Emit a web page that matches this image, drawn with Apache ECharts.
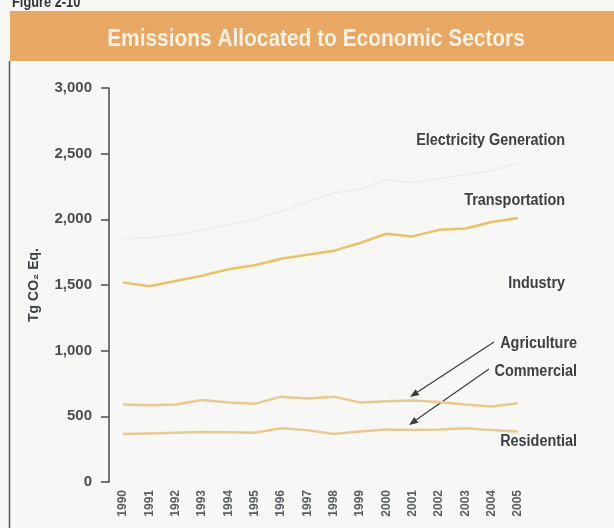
<!DOCTYPE html>
<html>
<head>
    <meta charset="utf-8">
    <title>Emissions Allocated to Economic Sectors</title>
    <script src="https://cdn.jsdelivr.net/npm/echarts@6/dist/echarts.min.js"></script>
    <style>
        html, body { margin: 0; padding: 0; background: #f7f7f5; }
        #main { width: 614px; height: 528px; }
    </style>
</head>
<body>
<div id="main"></div>
<script type="text/javascript">
    // 年份 (x 轴)
    var years = ['1990','1991','1992','1993','1994','1995','1996','1997',
                 '1998','1999','2000','2001','2002','2003','2004','2005'];
    // y 轴刻度
    var yTicks = [0, 500, 1000, 1500, 2000, 2500, 3000];

    // 各部门排放 (Tg CO2 Eq.)
    var electricity    = [1850, 1860, 1880, 1920, 1960, 2000, 2060, 2130, 2200, 2230, 2300, 2280, 2310, 2340, 2370, 2430];
    var transportation = [1520, 1490, 1530, 1570, 1620, 1650, 1700, 1730, 1760, 1820, 1890, 1870, 1920, 1930, 1980, 2010];
    var upperLine      = [590, 585, 590, 625, 605, 595, 650, 635, 650, 605, 615, 620, 610, 590, 575, 600];
    var lowerLine      = [365, 370, 375, 380, 378, 375, 410, 395, 365, 385, 400, 395, 400, 410, 395, 385];

    var FONT = "'Liberation Sans', Arial, sans-serif";

    // 箭头: 线 + 三角形箭头
    function arrow(x1, y1, x2, y2) {
        var a = Math.atan2(y2 - y1, x2 - x1);
        var len = 9, w = 3.5;
        var bx = x2 - len * Math.cos(a), by = y2 - len * Math.sin(a);
        return [
            { type: 'line', shape: { x1: x1, y1: y1, x2: bx, y2: by }, style: { stroke: '#3a3d40', lineWidth: 1.2 } },
            { type: 'polygon', shape: { points: [[x2, y2],
                [bx + w * Math.sin(a), by - w * Math.cos(a)],
                [bx - w * Math.sin(a), by + w * Math.cos(a)]] }, style: { fill: '#3a3d40' } }
        ];
    }

    // 窄体字: 横向压缩
    function label(text, right, y) {
        return { type: 'text', x: right, y: y, scaleX: 0.9,
            style: { text: text, x: 0, y: 0, align: 'right', verticalAlign: 'middle',
                     fill: '#3b4146', font: 'bold 16px ' + FONT } };
    }

    var myChart = echarts.init(document.getElementById('main'));

    var graphics = [
        { type: 'rect', shape: { x: 10, y: 11, width: 604, height: 50 }, style: { fill: '#e8a762' } },
        { type: 'line', shape: { x1: 9.5, y1: 61, x2: 9.5, y2: 528 }, style: { stroke: '#555', lineWidth: 1.5 } },
        { type: 'text', x: 12, y: 3, scaleX: 0.8,
          style: { text: 'Figure 2-10', x: 0, y: 0, verticalAlign: 'middle', fill: '#333', font: 'bold 16px ' + FONT } },
        { type: 'text', x: 316, y: 39, scaleX: 0.87,
          style: { text: 'Emissions Allocated to Economic Sectors', x: 0, y: 0, align: 'center', verticalAlign: 'middle',
                   fill: '#fdf3e4', font: 'bold 24px ' + FONT } },
        label('Electricity Generation', 565, 141),
        label('Transportation', 565, 201),
        label('Industry', 565, 284),
        label('Agriculture', 577, 344),
        label('Commercial', 577, 372),
        label('Residential', 577, 442)
    ].concat(arrow(494, 342, 410, 397)).concat(arrow(489, 369, 409, 425));

    myChart.setOption({
        animation: false,
        backgroundColor: '#f7f7f5',
        grid: { left: 123, right: 96, top: 88, bottom: 46 },
        xAxis: {
            type: 'category',
            data: years,
            boundaryGap: false,
            axisLine: { show: false },
            axisTick: { show: false },
            axisLabel: {
                rotate: 90, margin: 8, interval: 0,
                color: '#5a5f63', fontSize: 12, fontWeight: 'bold', fontFamily: FONT
            }
        },
        yAxis: {
            type: 'value',
            min: yTicks[0],
            max: yTicks[yTicks.length - 1],
            interval: 500,
            offset: 14,
            name: 'Tg CO₂ Eq.',
            nameLocation: 'middle',
            nameGap: 68,
            nameTextStyle: { color: '#3b4146', fontSize: 14, fontWeight: 'bold', fontFamily: FONT },
            axisLine: { show: true, lineStyle: { color: '#4a4d50', width: 1.5 } },
            axisTick: { show: true, length: 8, lineStyle: { color: '#4a4d50', width: 1.5 } },
            splitLine: { show: false },
            axisLabel: {
                margin: 17, color: '#4a4f53', fontSize: 15, fontWeight: 'bold', fontFamily: FONT,
                formatter: function (v) { return v.toLocaleString('en-US'); }
            }
        },
        series: [
            { name: 'Electricity Generation', type: 'line', data: electricity, symbol: 'none',
              lineStyle: { color: '#ecece9', width: 1.5 } },
            { name: 'Transportation', type: 'line', data: transportation, symbol: 'none',
              lineStyle: { color: '#e8c263', width: 2.5 } },
            { name: 'Agriculture', type: 'line', data: upperLine, symbol: 'none',
              lineStyle: { color: '#eac98c', width: 2.5 } },
            { name: 'Residential', type: 'line', data: lowerLine, symbol: 'none',
              lineStyle: { color: '#eac98c', width: 2.5 } }
        ],
        graphic: graphics
    });
</script>
</body>
</html>
